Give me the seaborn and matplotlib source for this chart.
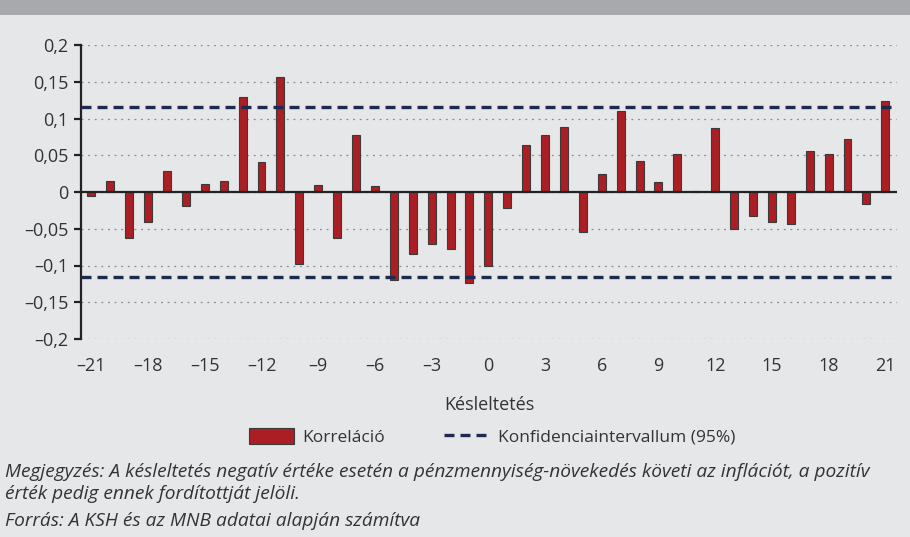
import pandas as pd
import matplotlib.pyplot as plt
import matplotlib.patches as mpatches
import matplotlib.lines as mlines
import seaborn as sns

# Data
lags = list(range(-21, 22))
corr = [-0.005, 0.0145, -0.063, -0.041, 0.028, -0.0195, 0.011, 0.0145, 0.129, 0.041,
        0.156, -0.098, 0.010, -0.063, 0.077, 0.0086, -0.1195, -0.0845, -0.0705, -0.077,
        -0.124, -0.1005, -0.022, 0.0636, 0.077, 0.089, -0.0545, 0.024, 0.110, 0.042,
        0.013, 0.052, 0.002, 0.087, -0.050, -0.033, -0.041, -0.0436, 0.0555, 0.052,
        0.0727, -0.017, 0.124]
conf = 0.116
y_ticks = [-0.2, -0.15, -0.1, -0.05, 0, 0.05, 0.1, 0.15, 0.2]
y_labels = ['–0,2', '–0,15', '–0,1', '–0,05', '0', '0,05', '0,1', '0,15', '0,2']
x_ticks = list(range(-21, 22, 3))
x_labels = [('–' + str(-v)) if v < 0 else str(v) for v in x_ticks]

df = pd.DataFrame({'lag': lags, 'corr': corr})

bg = '#e6e7e8'
red = '#ab1f24'
navy = '#1b2a4e'
txt = '#333333'

sns.set_style('white')
plt.rcParams['font.family'] = ['Open Sans', 'DejaVu Sans']

fig = plt.figure(figsize=(9.1, 5.37), dpi=100, facecolor=bg)
ax = fig.add_axes([81 / 910, 1 - 339 / 537, (897 - 81) / 910, (339 - 45) / 537])
ax.set_facecolor(bg)

# grey band on top
fig.patches.append(mpatches.Rectangle((0, 1 - 15 / 537), 1, 15 / 537, transform=fig.transFigure,
                                      facecolor='#a7a9ac', edgecolor='none', zorder=0))

sns.barplot(data=df, x='lag', y='corr', native_scale=True, width=0.42, color=red,
            saturation=1, edgecolor='#3a3a3a', linewidth=0.8, ax=ax, zorder=3)

ax.set_xlim(-21.55, 21.62)
ax.set_ylim(-0.2, 0.2)
for yv in y_ticks:
    ax.axhline(yv, color='#8a8a8a', lw=0.9, ls=(0, (1.5, 3.8)), zorder=1)
ax.axhline(0, color='#222222', lw=1.6, zorder=4)
ax.axhline(conf, color=navy, lw=2.4, ls=(0, (3, 1.8)), zorder=5)
ax.axhline(-conf, color=navy, lw=2.4, ls=(0, (3, 1.8)), zorder=5)

ax.set_yticks(y_ticks)
ax.set_yticklabels(y_labels, fontsize=13, color=txt)
ax.set_xticks(x_ticks)
ax.set_xticklabels(x_labels, fontsize=13, color=txt)
ax.tick_params(axis='x', length=0, pad=13)
ax.tick_params(axis='y', length=5, width=1.6, color='#222222', pad=4, direction='out', left=True)
ax.set_xlabel('Késleltetés', fontsize=13, color=txt, labelpad=15)
ax.set_ylabel('')

for s in ['top', 'right', 'bottom']:
    ax.spines[s].set_visible(False)
ax.spines['left'].set_color('#222222')
ax.spines['left'].set_linewidth(1.6)

h_bar = mpatches.Patch(facecolor=red, edgecolor='#3a3a3a', linewidth=0.8)
h_line = mlines.Line2D([], [], color=navy, lw=2.4, ls=(0, (3, 1.8)))
fig.legend([h_bar, h_line], ['Korreláció', 'Konfidenciaintervallum (95%)'],
           loc='center', bbox_to_anchor=(492 / 910, 1 - 437 / 537), ncol=2, frameon=False,
           fontsize=12.5, handlelength=2.6, handleheight=1.0, columnspacing=3.4,
           handletextpad=0.5, labelcolor=txt)

fig.text(5 / 910, 1 - 472 / 537,
         'Megjegyzés: A késleltetés negatív értéke esetén a pénzmennyiség-növekedés követi az inflációt, a pozitív',
         fontsize=13.8, style='italic', color=txt, va='center', ha='left')
fig.text(5 / 910, 1 - 494 / 537, 'érték pedig ennek fordítottját jelöli.',
         fontsize=13.8, style='italic', color=txt, va='center', ha='left')
fig.text(5 / 910, 1 - 521 / 537, 'Forrás: A KSH és az MNB adatai alapján számítva',
         fontsize=13.8, style='italic', color=txt, va='center', ha='left')

fig.savefig('out.png', dpi=100, facecolor=bg)
